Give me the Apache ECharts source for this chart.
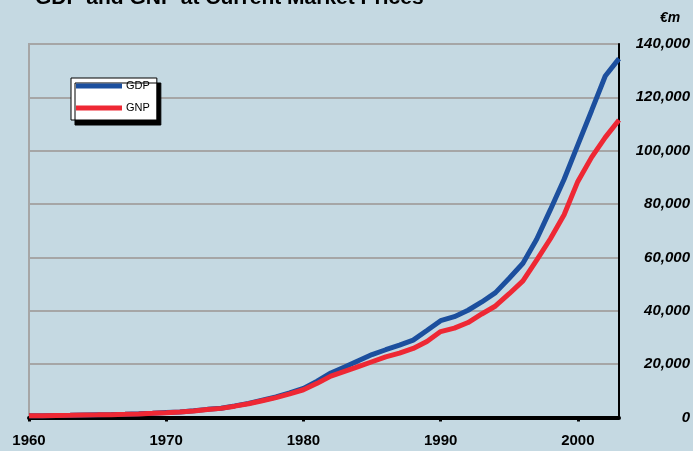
<!DOCTYPE html>
<html>
<head>
<meta charset="utf-8">
<script src="https://cdn.jsdelivr.net/npm/echarts@6/dist/echarts.min.js"></script>
<style>
html,body{margin:0;padding:0;background:#c5d9e2;}
#chart{width:693px;height:451px;}
</style>
</head>
<body>
<div id="chart"></div>
<script>
var titleText = 'GDP and GNP at Current Market Prices';
var unitText = '€m';
var years = [1960,1961,1962,1963,1964,1965,1966,1967,1968,1969,
             1970,1971,1972,1973,1974,1975,1976,1977,1978,1979,
             1980,1981,1982,1983,1984,1985,1986,1987,1988,1989,
             1990,1991,1992,1993,1994,1995,1996,1997,1998,1999,
             2000,2001,2002,2003];
var gdp = [650,700,770,840,950,1020,1090,1200,1370,1600,
           1850,2100,2520,3050,3500,4350,5300,6500,7700,9200,
           10900,13600,16700,18900,21300,23600,25400,27100,29000,32600,
           36300,37800,40200,43300,46800,52200,57800,66800,77900,89300,
           102200,115000,128000,134500];
var gnp = [640,690,760,830,940,1000,1070,1180,1340,1570,
           1810,2060,2470,2990,3420,4250,5150,6300,7450,8850,
           10400,12800,15500,17300,19100,20900,22700,24100,25900,28500,
           32200,33500,35600,38800,41800,46400,51200,59000,67000,76000,
           88500,97500,105000,111500];
var xTickLabels = [1960,1970,1980,1990,2000];
var seriesNames = ['GDP','GNP'];

function pairs(vals){ return years.map(function(y,i){ return [y, vals[i]]; }); }

var chart = echarts.init(document.getElementById('chart'), null, {renderer:'canvas'});
var font = '"Liberation Sans", Arial, sans-serif';
chart.setOption({
  backgroundColor: '#c5d9e2',
  animation: false,
  title: {
    text: titleText,
    left: 30, top: -17,
    textStyle: {fontFamily: font, fontSize: 21, fontWeight: 'bold', color: '#000'}
  },
  graphic: [{
    type: 'text', left: 660, top: 11,
    style: {text: unitText, font: 'italic bold 14px ' + font, fill: '#000'}
  }],
  legend: {
    orient: 'vertical', left: 71, top: 78,
    data: seriesNames,
    icon: 'rect', itemWidth: 46, itemHeight: 5, itemGap: 8,
    padding: [1, 7, 5, 5],
    backgroundColor: '#fff', borderColor: '#000', borderWidth: 1,
    shadowColor: '#000', shadowBlur: 0, shadowOffsetX: 4, shadowOffsetY: 5,
    textStyle: {fontFamily: font, fontSize: 11, color: '#000', lineHeight: 14, padding: [0,0,0,-1]}
  },
  grid: {
    left: 29, right: 73, top: 44, bottom: 33.5,
    show: true, borderColor: '#a6a6a6', borderWidth: 2, backgroundColor: 'transparent'
  },
  xAxis: {
    type: 'value', min: 1960, max: 2003, interval: 10,
    offset: 2,
    axisLine: {show: true, lineStyle: {color: '#000', width: 4}},
    axisTick: {show: true, length: 4, lineStyle: {color: '#000', width: 3}},
    splitLine: {show: false},
    axisLabel: {
      margin: 14, color: '#000', fontFamily: font, fontSize: 15, fontWeight: 'bold',
      showMaxLabel: false,
      formatter: function(v){ return xTickLabels.indexOf(v) >= 0 ? String(v) : ''; }
    }
  },
  yAxis: {
    type: 'value', position: 'right', min: 0, max: 140000, interval: 20000,
    axisLine: {show: true, lineStyle: {color: '#000', width: 2}},
    axisTick: {show: false},
    splitLine: {show: true, lineStyle: {color: '#a6a6a6', width: 2}},
    axisLabel: {
      align: 'right', margin: 71, color: '#000', fontFamily: font, fontSize: 15,
      fontWeight: 'bold', fontStyle: 'italic',
      formatter: function(v){ return v.toLocaleString('en-US'); }
    }
  },
  series: [
    {name: seriesNames[0], type: 'line', data: pairs(gdp), showSymbol: false,
     lineStyle: {color: '#1c4f9e', width: 5}, itemStyle: {color: '#1c4f9e'}},
    {name: seriesNames[1], type: 'line', data: pairs(gnp), showSymbol: false,
     lineStyle: {color: '#ee2834', width: 5}, itemStyle: {color: '#ee2834'}}
  ]
});
</script>
</body>
</html>
